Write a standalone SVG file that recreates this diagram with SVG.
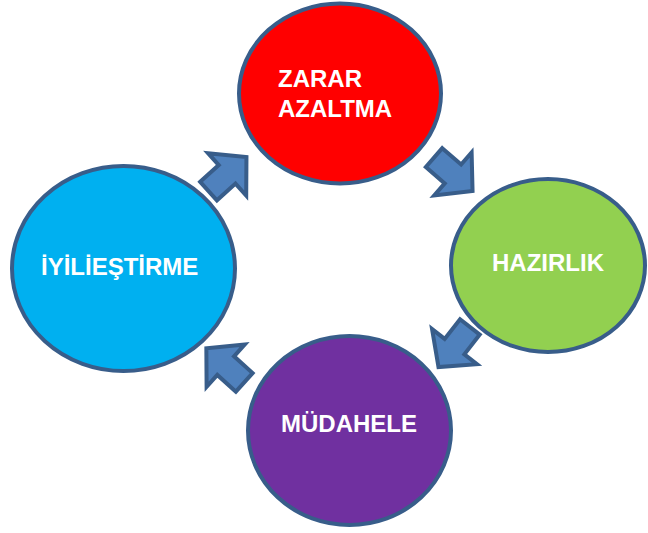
<svg xmlns="http://www.w3.org/2000/svg" xmlns:xlink="http://www.w3.org/1999/xlink" width="648" height="533" viewBox="0 0 648 533">
  <style>
    .node { stroke: #385D8A; stroke-width: 4; }
    .lbl { font-family: "Liberation Sans", Arial, sans-serif; font-weight: bold; font-size: 24px; fill: #FFFFFF; }
    .arrow { fill: #4F81BD; stroke: #385D8A; stroke-width: 4; stroke-linejoin: miter; }
  </style>
  <defs>
    <path id="blockArrow" d="M -25.5,-12.5 L -0.5,-12.5 L -0.5,-28.5 L 25.5,0 L -0.5,28.5 L -0.5,12.5 L -25.5,12.5 Z"/>
  </defs>
  <rect width="648" height="533" fill="#FFFFFF"/>
  <g id="connectors">
    <use xlink:href="#blockArrow" class="arrow" transform="translate(227.5,174) rotate(-42)"/>
    <use xlink:href="#blockArrow" class="arrow" transform="translate(453.3,174.3) rotate(41)"/>
    <use xlink:href="#blockArrow" class="arrow" transform="translate(454.2,347) rotate(128)"/>
    <use xlink:href="#blockArrow" class="arrow" transform="translate(225.3,365.3) rotate(222)"/>
  </g>
  <g id="zarar-azaltma">
    <ellipse class="node" cx="340" cy="93.5" rx="101" ry="90" fill="#FF0000"/>
    <text class="lbl" x="278" y="87">ZARAR</text>
    <text class="lbl" x="278" y="117">AZALTMA</text>
  </g>
  <g id="hazirlik">
    <ellipse class="node" cx="548" cy="265.5" rx="97" ry="86.5" fill="#92D050"/>
    <text class="lbl" x="492" y="271">HAZIRLIK</text>
  </g>
  <g id="mudahele">
    <ellipse class="node" cx="349.5" cy="430.5" rx="101.5" ry="94.5" fill="#7030A0"/>
    <text class="lbl" x="281" y="432">MÜDAHELE</text>
  </g>
  <g id="iyilestirme">
    <ellipse class="node" cx="123.5" cy="268.5" rx="111.5" ry="102.5" fill="#00B0F0"/>
    <text class="lbl" x="41" y="275">İYİLİEŞTİRME</text>
  </g>
</svg>
